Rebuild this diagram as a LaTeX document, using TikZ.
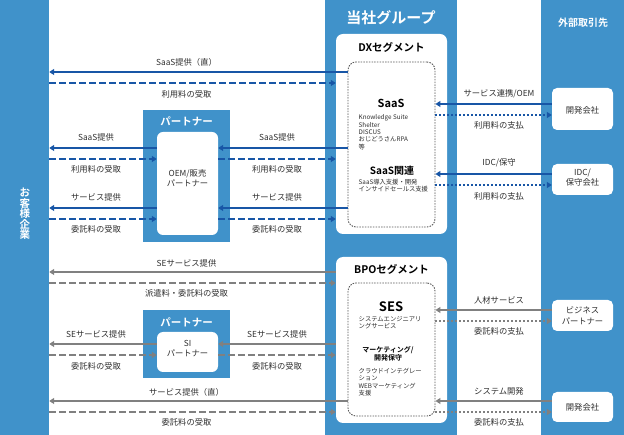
\documentclass[tikz,border=0pt]{standalone}
\usepackage{fontspec}
\setmainfont{Noto Sans CJK JP}[BoldFont={* Bold}]
\usepackage{xcolor}
\usepackage{tikz}
\usetikzlibrary{arrows.meta}

\definecolor{colblue}{RGB}{64,146,202}
\definecolor{dxblue}{RGB}{24,86,166}
\definecolor{bpogray}{RGB}{128,128,128}
\definecolor{txtgray}{RGB}{45,45,45}
\newcommand{\sz}[2]{\fontsize{#1}{#2}\selectfont}

\tikzset{
  colbox/.style={fill=colblue, draw=none, inner sep=0pt},
  whitebox/.style={fill=white, draw=none, rounded corners=7, inner sep=0pt},
  segin/.style={draw=black!65, dash pattern=on 1.5pt off 1.2pt, line width=0.9pt, rounded corners=8, inner sep=0pt},
  lbl/.style={font=\sz{8.3}{10.5}, text=txtgray, inner sep=0pt, align=center},
  small/.style={font=\sz{6.3}{7.4}, text=txtgray, inner sep=0pt, align=left, anchor=north west},
  head/.style={font=\bfseries\sz{10.5}{11}, inner sep=0pt, align=center},
  dxsolid/.style={draw=dxblue, line width=1.8pt, -{Triangle[length=5pt,width=6pt]}},
  dxdash/.style={dxsolid, dash pattern=on 6.5pt off 3.5pt},
  dxdot/.style={dxsolid, dash pattern=on 2pt off 2pt},
  bposolid/.style={draw=bpogray, line width=1.8pt, -{Triangle[length=5pt,width=6pt]}},
  bpodash/.style={bposolid, dash pattern=on 6.5pt off 3.5pt},
  bpodot/.style={bposolid, dash pattern=on 2pt off 2pt}
}

\begin{document}
\begin{tikzpicture}[x=1pt,y=-1pt]
\useasboundingbox (0,0) rectangle (624,435);
% columns
\node[colbox, minimum width=49, minimum height=435] (cust) at (24.5,217.5) {};
\node[colbox, minimum width=132, minimum height=435] (grp) at (391,217.5) {};
\node[colbox, minimum width=83, minimum height=435] (ext) at (582.5,217.5) {};
\node[head, text=white, font=\bfseries\sz{10.5}{10.6}] (custT) at (25,214) {お\\客\\様\\企\\業};
\node[head, text=white, font=\bfseries\sz{15}{16}] (grpT) at (391,18) {当社グループ};
\node[head, text=white, font=\bfseries\sz{10}{11}] (extT) at (583,23) {外部取引先};

% segments
\node[whitebox, minimum width=111, minimum height=200] (dx) at (391.5,134) {};
\node[segin, minimum width=87, minimum height=165] (dxin) at (391.5,144.5) {};
\node[whitebox, minimum width=111, minimum height=166] (bpo) at (391.5,340) {};
\node[segin, minimum width=87, minimum height=133] (bpoin) at (391.5,349.5) {};
\node[head] (dxT) at (391.5,47) {DXセグメント};
\node[head] (bpoT) at (391.5,269) {BPOセグメント};

% partners
\node[colbox, minimum width=87, minimum height=132] (ptA) at (186.5,176) {};
\node[whitebox, rounded corners=6, minimum width=61, minimum height=103] (ptAin) at (187.5,183.5) {};
\node[colbox, minimum width=87, minimum height=68] (ptB) at (186.5,344) {};
\node[whitebox, rounded corners=6, minimum width=61, minimum height=40] (ptBin) at (187.5,352) {};
\node[head, text=white] (ptAT) at (186.5,121) {パートナー};
\node[head, text=white] (ptBT) at (186.5,322) {パートナー};
\node[lbl] (ptAX) at (187.5,178) {OEM/販売\\パートナー};
\node[lbl] (ptBX) at (187.5,348.5) {SI\\パートナー};

% external
\node[whitebox, rounded corners=5, minimum width=61, minimum height=42] (devA) at (582.5,109) {};
\node[whitebox, rounded corners=5, minimum width=61, minimum height=31] (idc) at (582.5,179.5) {};
\node[whitebox, rounded corners=5, minimum width=61, minimum height=31] (bp) at (582.5,315.5) {};
\node[whitebox, rounded corners=5, minimum width=61, minimum height=30] (devB) at (582.5,407) {};
\node[lbl] (devAX) at (582.5,110) {開発会社};
\node[lbl] (idcX) at (582.5,177.5) {IDC/\\保守会社};
\node[lbl] (bpX) at (582.5,315.5) {ビジネス\\パートナー};
\node[lbl] (devBX) at (582.5,407) {開発会社};

% DX contents
\node[head, font=\bfseries\sz{11}{12}] (saas) at (391,103) {SaaS};
\node[small] (saasL) at (358.5,114.5) {Knowledge Suite\\Shelter\\DISCUS\\おじどうさんRPA\\等};
\node[head, font=\bfseries\sz{10}{11}] (saasR) at (392,171) {SaaS関連};
\node[small] (saasRL) at (358.5,178.5) {SaaS導入支援・開発\\インサイドセールス支援};

% BPO contents
\node[head, font=\bfseries\sz{13}{14}] (ses) at (391,307) {SES};
\node[small] (sesL) at (358.5,316) {システムエンジニアリ\\ングサービス};
\node[head, font=\bfseries\sz{7}{8}] (mkt) at (388,354) {マーケティング/\\開発保守};
\node[small] (mktL) at (358.5,368) {クラウドインテグレー\\ション\\WEBマーケティング\\支援};

% DX flows, customer side
\draw[dxsolid] (dxin.west |- 0,72) -- (cust.east |- 0,72);
\draw[dxdash] (cust.east |- 0,83) -- (dx.west |- 0,83);
\node[lbl] (l1) at (186.5,62) {SaaS提供（直）};
\node[lbl] (l2) at (186.5,94) {利用料の受取};
\foreach \ya/\yb/\ta/\tb in {148/159/SaaS提供/利用料の受取, 208/219/サービス提供/委託料の受取} {
  \draw[dxsolid] (ptAin.west |- 0,\ya) -- (cust.east |- 0,\ya);
  \draw[dxdash] (cust.east |- 0,\yb) -- (ptAin.west |- 0,\yb);
  \draw[dxsolid] (dxin.west |- 0,\ya) -- (ptAin.east |- 0,\ya);
  \draw[dxdash] (ptAin.east |- 0,\yb) -- (dx.west |- 0,\yb);
  \node[lbl] at (96,\ya-11) {\ta};
  \node[lbl] at (96,\yb+10) {\tb};
  \node[lbl] at (277,\ya-11) {\ta};
  \node[lbl] at (277,\yb+10) {\tb};
}

% DX flows, partner side
\draw[dxsolid] (devA.west |- 0,104) -- (dxin.east |- 0,104);
\draw[dxdot] (dxin.east |- 0,115) -- (devA.west |- 0,115);
\draw[dxsolid] (idc.west |- 0,174) -- (dxin.east |- 0,174);
\draw[dxdot] (dxin.east |- 0,185) -- (idc.west |- 0,185);
\node[lbl] (r1) at (499,94) {サービス連携/OEM};
\node[lbl] (r2) at (499,125) {利用料の支払};
\node[lbl] (r3) at (499,163) {IDC/保守};
\node[lbl] (r4) at (499,196) {利用料の支払};

% BPO flows, customer side
\draw[bposolid] (bpo.west |- 0,272) -- (cust.east |- 0,272);
\draw[bpodash] (cust.east |- 0,283) -- (bpo.west |- 0,283);
\node[lbl] (l3) at (186.5,263) {SEサービス提供};
\node[lbl] (l4) at (186.5,293) {派遣料・委託料の受取};
\draw[bposolid] (ptBin.west |- 0,344) -- (cust.east |- 0,344);
\draw[bpodash] (cust.east |- 0,355) -- (ptBin.west |- 0,355);
\draw[bposolid] (bpo.west |- 0,344) -- (ptBin.east |- 0,344);
\draw[bpodash] (ptBin.east |- 0,355) -- (bpo.west |- 0,355);
\node[lbl] (l5) at (96,334) {SEサービス提供};
\node[lbl] (l6) at (96,366) {委託料の受取};
\node[lbl] (l7) at (277,334) {SEサービス提供};
\node[lbl] (l8) at (277,366) {委託料の受取};
\draw[bposolid] (bpoin.west |- 0,401) -- (cust.east |- 0,401);
\draw[bpodash] (cust.east |- 0,412) -- (bpo.west |- 0,412);
\node[lbl] (l9) at (186.5,392) {サービス提供（直）};
\node[lbl] (l10) at (186.5,422) {委託料の受取};

% BPO flows, partner side
\draw[bposolid] (bp.west |- 0,310) -- (bpoin.east |- 0,310);
\draw[bpodot] (bpoin.east |- 0,321) -- (bp.west |- 0,321);
\draw[bposolid] (devB.west |- 0,401) -- (bpoin.east |- 0,401);
\draw[bpodot] (bpoin.east |- 0,412) -- (devB.west |- 0,412);
\node[lbl] (r5) at (499,300) {人材サービス};
\node[lbl] (r6) at (499,331) {委託料の支払};
\node[lbl] (r7) at (499,391) {システム開発};
\node[lbl] (r8) at (499,422) {委託料の支払};
\end{tikzpicture}
\end{document}
